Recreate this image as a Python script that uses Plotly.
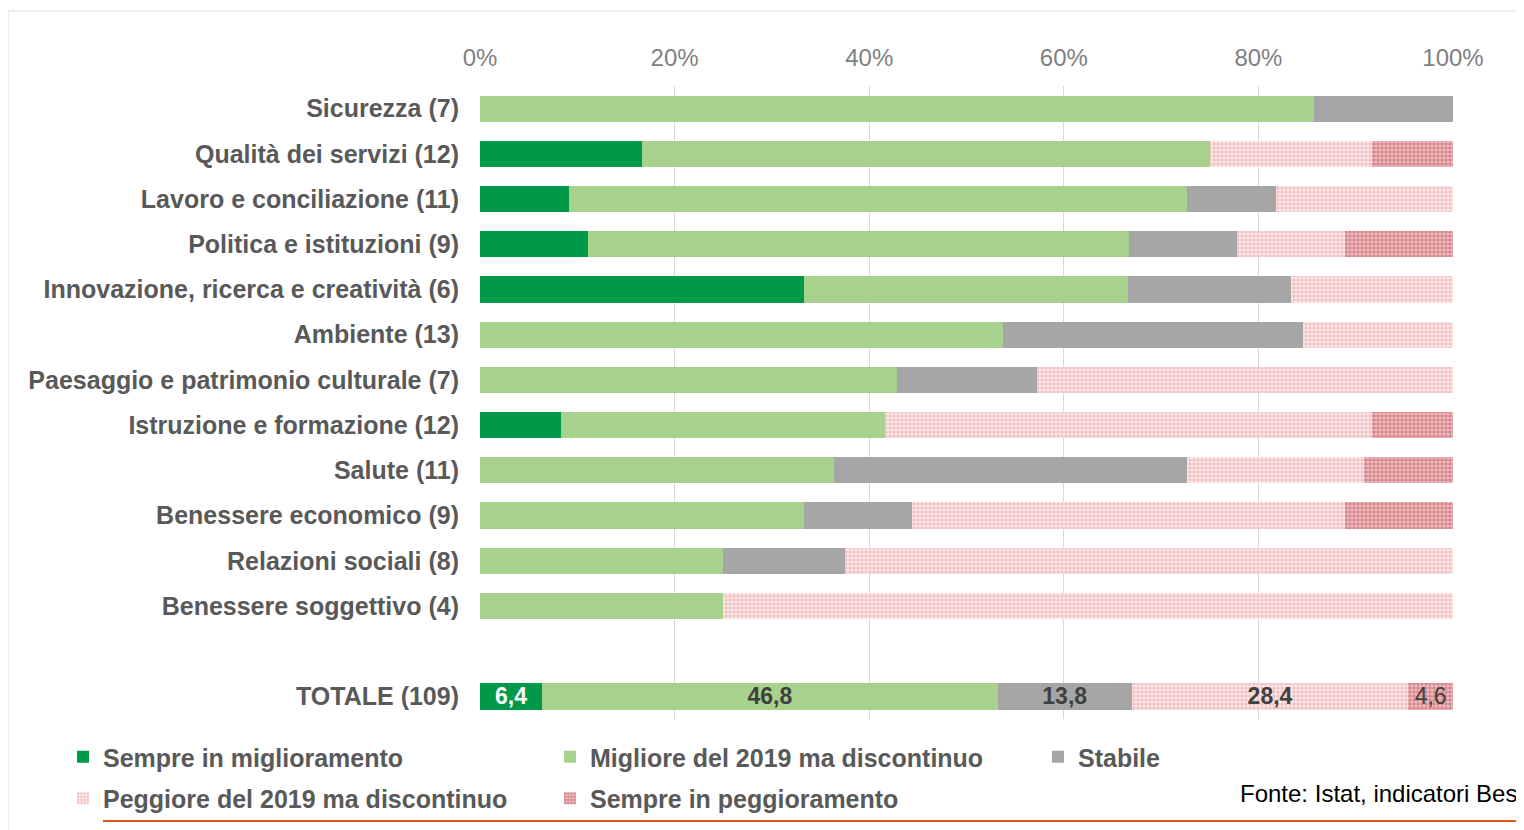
import plotly.graph_objects as go

categories = [
    "Sicurezza (7)",
    "Qualità dei servizi (12)",
    "Lavoro e conciliazione (11)",
    "Politica e istituzioni (9)",
    "Innovazione, ricerca e creatività (6)",
    "Ambiente (13)",
    "Paesaggio e patrimonio culturale (7)",
    "Istruzione e formazione (12)",
    "Salute (11)",
    "Benessere economico (9)",
    "Relazioni sociali (8)",
    "Benessere soggettivo (4)",
    "TOTALE (109)",
]
positions = [0, 1, 2, 3, 4, 5, 6, 7, 8, 9, 10, 11, 13]

sempre_miglioramento = [0, 16.7, 9.1, 11.1, 33.3, 0, 0, 8.3, 0, 0, 0, 0, 6.4]
migliore_discontinuo = [85.7, 58.3, 63.6, 55.6, 33.3, 53.8, 42.9, 33.3, 36.4, 33.3, 25.0, 25.0, 46.8]
stabile = [14.3, 0, 9.1, 11.1, 16.7, 30.8, 14.3, 0, 36.3, 11.1, 12.5, 0, 13.8]
peggiore_discontinuo = [0, 16.7, 18.2, 11.1, 16.7, 15.4, 42.8, 50.1, 18.2, 44.5, 62.5, 75.0, 28.4]
sempre_peggioramento = [0, 8.3, 0, 11.1, 0, 0, 0, 8.3, 9.1, 11.1, 0, 0, 4.6]

series_names = [
    "Sempre in miglioramento",
    "Migliore del 2019 ma discontinuo",
    "Stabile",
    "Peggiore del 2019 ma discontinuo",
    "Sempre in peggioramento",
]
series_values = [sempre_miglioramento, migliore_discontinuo, stabile,
                 peggiore_discontinuo, sempre_peggioramento]

# page is rendered with the browser's default 8px body margin
OFF = 8
W, H = 1524, 830
L, T = 480 - OFF, 86 - OFF
R = W - (1453 - OFF)
B = H - (719 - OFF)
PW, PH = W - L - R, H - T - B


def px_x(x):
    return (x - OFF - L) / PW


def px_y(y):
    return (H - B - (y - OFF)) / PH


def fmt(v):
    return ("%.1f" % v).replace(".", ",")


styles = [
    dict(color="#00994A"),
    dict(color="#A9D18E"),
    dict(color="#A6A6A6"),
    dict(color="#FBE3E3", pattern=dict(shape=".", bgcolor="#FCE6E6", fgcolor="#F0BEC1",
                                       size=4, solidity=0.45, fillmode="replace")),
    dict(color="#E8A7AA", pattern=dict(shape=".", bgcolor="#EDB7BA", fgcolor="#D48489",
                                       size=4, solidity=0.5, fillmode="replace")),
]
text_colors = ["#FFFFFF", "#404040", "#404040", "#404040", "#404040"]
text_weights = ["bold", "bold", "bold", "bold", "normal"]
legend_ids = ["legend", "legend2", "legend3", "legend", "legend2"]

narrow = "Liberation Sans Narrow, Arial Narrow, Liberation Sans, Arial, sans-serif"
sans = "Liberation Sans, Arial, sans-serif"

fig = go.Figure()
for i, (name, vals) in enumerate(zip(series_names, series_values)):
    texts = [""] * (len(vals) - 1) + [fmt(vals[-1])]
    fig.add_trace(go.Bar(
        name=name,
        y=positions,
        x=vals,
        orientation="h",
        width=0.58,
        marker=dict(line=dict(width=0), **styles[i]),
        text=texts,
        textposition="inside",
        insidetextanchor="middle",
        textangle=0,
        constraintext="none",
        textfont=dict(family=narrow, size=23, color=text_colors[i], weight=text_weights[i]),
        legend=legend_ids[i],
        legendgroup=name,
        hoverinfo="x+name",
    ))

legend_font = dict(family=sans, size=25, color="#595959", weight="bold")
leg_common = dict(orientation="v", xref="container", yref="container", yanchor="top",
                  xanchor="left", font=legend_font, tracegroupgap=6,
                  bgcolor="rgba(0,0,0,0)", itemclick=False, itemdoubleclick=False)
ytop = (H - (734 - OFF)) / H

fig.update_layout(
    width=W, height=H,
    margin=dict(l=L, r=R, t=T, b=B, autoexpand=False),
    paper_bgcolor="white", plot_bgcolor="white",
    barmode="stack",
    showlegend=True,
    legend=dict(x=(103 - OFF - 40) / W, y=ytop, **leg_common),
    legend2=dict(x=(590 - OFF - 40) / W, y=ytop, **leg_common),
    legend3=dict(x=(1078 - OFF - 40) / W, y=ytop, **leg_common),
    xaxis=dict(
        range=[0, 100], side="top",
        tickvals=[0, 20, 40, 60, 80, 100],
        ticktext=["0%", "20%", "40%", "60%", "80%", "100%"],
        showgrid=True, gridcolor="#D9D9D9", gridwidth=1,
        zeroline=False, showline=False, ticks="",
        ticklabelstandoff=14,
        tickfont=dict(family=sans, size=24, color="#7F7F7F"),
        fixedrange=True,
    ),
    yaxis=dict(
        range=[13.5, -0.5],
        tickvals=positions, ticktext=categories,
        showgrid=False, zeroline=False, showline=False, ticks="",
        ticklabelstandoff=20,
        tickfont=dict(family=sans, size=25, color="#595959", weight="bold"),
        fixedrange=True,
    ),
    shapes=[
        dict(type="rect", xref="paper", yref="paper",
             x0=px_x(8), x1=px_x(1545), y0=px_y(850), y1=px_y(11),
             line=dict(color="#D9D9D9", width=1), fillcolor="rgba(0,0,0,0)", layer="below"),
        dict(type="line", xref="paper", yref="paper",
             x0=px_x(103), x1=px_x(1540), y0=px_y(821), y1=px_y(821),
             line=dict(color="#E0561C", width=2)),
    ],
    annotations=[
        dict(text="Fonte: Istat, indicatori Bes", xref="paper", yref="paper",
             x=px_x(1238), y=px_y(793), xanchor="left", yanchor="middle",
             showarrow=False, font=dict(family=narrow, size=24, color="#000000")),
    ],
)

fig.write_html("out.html")
